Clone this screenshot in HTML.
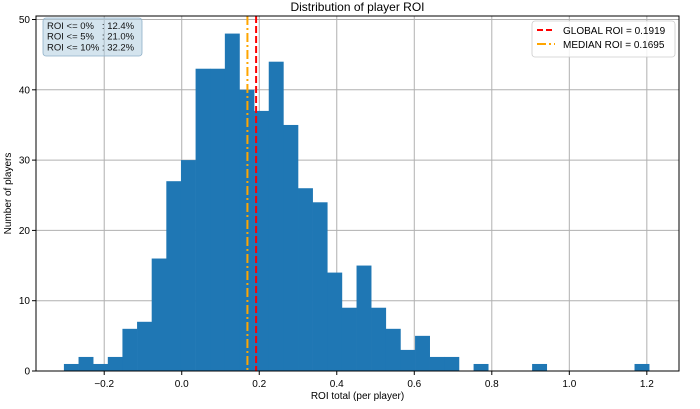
<!DOCTYPE html>
<html><head><meta charset="utf-8"><style>
body{margin:0;background:#fff;}
svg{display:block;font-family:"Liberation Sans","DejaVu Sans",sans-serif;}
</style></head><body>
<svg id="chart" width="700" height="409" viewBox="0 0 700 409" xmlns="http://www.w3.org/2000/svg"></svg>
<script>
const binStart = -0.304;
const binWidth = 0.03775;
const counts = [1,2,1,2,6,7,16,27,30,43,43,48,40,37,44,35,26,24,14,9,15,9,6,3,5,2,2,0,1,0,0,0,1,0,0,0,0,0,0,1];
const xTicks = [-0.2,0.0,0.2,0.4,0.6,0.8,1.0,1.2];
const xTickLabels = ["\u22120.2","0.0","0.2","0.4","0.6","0.8","1.0","1.2"];
const yTicks = [0,10,20,30,40,50];
const globalRoi = 0.1919;
const medianRoi = 0.1695;
const statLines = ["ROI <= 0%   : 12.4%","ROI <= 5%   : 21.0%","ROI <= 10% : 32.2%"];

const L=36,R=679,T=16,B=371;
const xMin=-0.376,xMax=1.283,yMin=0,yMax=50.5;
const sx=v=>L+(v-xMin)/(xMax-xMin)*(R-L);
const sy=v=>B-(v-yMin)/(yMax-yMin)*(B-T);
const NS="http://www.w3.org/2000/svg";
const svg=document.getElementById('chart');
function mk(tag,attrs,parent){const e=document.createElementNS(NS,tag);for(const k in attrs)e.setAttribute(k,attrs[k]);(parent||svg).appendChild(e);return e;}

xTicks.forEach((t,i)=>{
  const g=mk('line',{x1:sx(t),x2:sx(t),y1:T,y2:B,stroke:'#b0b0b0','stroke-width':1});
  
  
  mk('line',{x1:sx(t),x2:sx(t),y1:B,y2:B+4,stroke:'#000'});
  const tx=mk('text',{x:sx(t),y:B+16,'text-anchor':'middle','font-size':10,fill:'#000'});
  tx.textContent=xTickLabels[i];
  
  
});
yTicks.forEach(t=>{
  const g=mk('line',{x1:L,x2:R,y1:sy(t),y2:sy(t),stroke:'#b0b0b0','stroke-width':1});
  
  
  mk('line',{x1:L-4,x2:L,y1:sy(t),y2:sy(t),stroke:'#000'});
  const tx=mk('text',{x:L-6,y:sy(t)+3.5,'text-anchor':'end','font-size':10,fill:'#000'});
  tx.textContent=String(t);
  
  
});

counts.forEach((c,i)=>{
  if(c<=0)return;
  const x0=sx(binStart+i*binWidth),x1=sx(binStart+(i+1)*binWidth);
  const r=mk('rect',{x:x0,y:sy(c),width:x1-x0+0.3,height:sy(0)-sy(c),fill:'#1f77b4'});
  
  
});

const gl=mk('line',{x1:sx(globalRoi),x2:sx(globalRoi),y1:T,y2:B,stroke:'#ff0000','stroke-width':2,'stroke-dasharray':'7,3'});


const ml=mk('line',{x1:sx(medianRoi),x2:sx(medianRoi),y1:T,y2:B,stroke:'#ffa500','stroke-width':2,'stroke-dasharray':'9,3,2,3'});



mk('rect',{x:L,y:T,width:R-L,height:B-T,fill:'none',stroke:'#000','stroke-width':1});

const sb=mk('rect',{x:43,y:18,width:99,height:38,rx:3,fill:'#b0cde0','fill-opacity':0.55,stroke:'#8fb0c8','stroke-width':0.8});


statLines.forEach((s,i)=>{
  const t=mk('text',{x:47,y:29+i*10.7,'font-size':9.5,fill:'#111','xml:space':'preserve'});
  t.setAttribute('style','white-space:pre');
  t.textContent=s;
  
  
});

const lg=mk('rect',{x:532,y:21,width:143,height:36,rx:3,fill:'#fff','fill-opacity':0.85,stroke:'#ccc','stroke-width':0.8});


mk('line',{x1:537,x2:555,y1:30,y2:30,stroke:'#ff0000','stroke-width':2,'stroke-dasharray':'6,3'});
mk('line',{x1:537,x2:555,y1:44,y2:44,stroke:'#ffa500','stroke-width':2,'stroke-dasharray':'9,3,2,3'});
const l1=mk('text',{x:563,y:34,'font-size':10,fill:'#000'});l1.textContent='GLOBAL ROI = 0.1919';


const l2=mk('text',{x:563,y:48,'font-size':10,fill:'#000'});l2.textContent='MEDIAN ROI = 0.1695';



const ti=mk('text',{x:(L+R)/2,y:11,'text-anchor':'middle','font-size':12,fill:'#000'});ti.textContent='Distribution of player ROI';


const xl=mk('text',{x:(L+R)/2,y:399,'text-anchor':'middle','font-size':10,fill:'#000'});xl.textContent='ROI total (per player)';


const yl=mk('text',{x:11,y:(T+B)/2,'text-anchor':'middle','font-size':10,fill:'#000',transform:`rotate(-90 11 ${(T+B)/2})`});yl.textContent='Number of players';


</script>
</body></html>
